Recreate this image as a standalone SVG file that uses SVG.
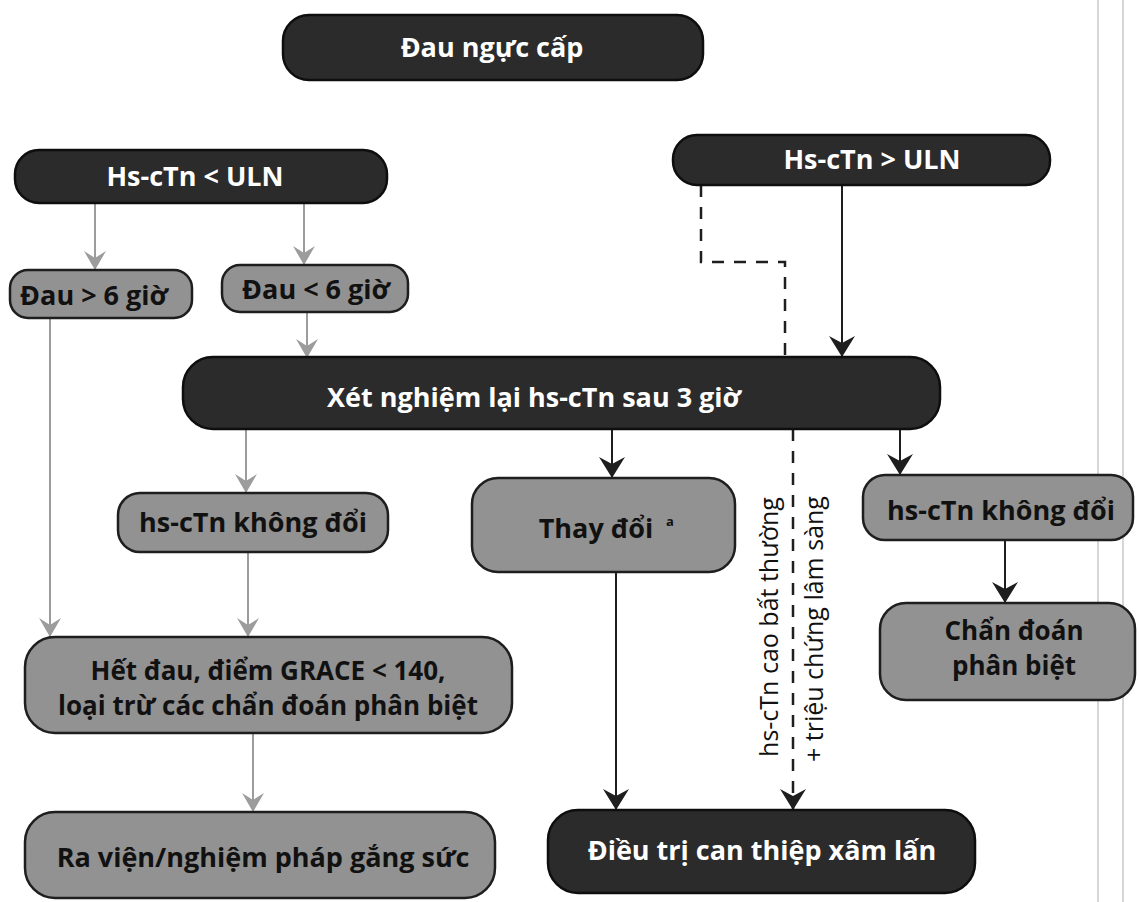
<svg xmlns="http://www.w3.org/2000/svg" width="1139" height="902" viewBox="0 0 1139 902">
<style>
.dark{fill:#2b2b2b;stroke:#0e0e0e;stroke-width:2.5}
.gray{fill:#929292;stroke:#1e1e1e;stroke-width:2.5}
.tw{font-family:"Open Sans","Liberation Sans",sans-serif;font-weight:700;font-size:27px;fill:#ffffff;text-anchor:middle}
.tb{font-family:"Open Sans","Liberation Sans",sans-serif;font-weight:700;font-size:27px;fill:#111111;text-anchor:middle}
.t2{font-size:26px}
.tr{font-family:"Open Sans","Liberation Sans",sans-serif;font-weight:400;font-size:25px;fill:#111111;text-anchor:middle}
.cg{stroke:#9c9c9c;stroke-width:2;fill:none;marker-end:url(#ag)}
.cb{stroke:#1e1e1e;stroke-width:2;fill:none;marker-end:url(#ab)}
.cd{stroke:#1e1e1e;stroke-width:2.5;fill:none;stroke-dasharray:12 10}
.page{stroke:#c8c8c8;stroke-width:1.5}
</style>
<defs>
<marker id="ag" markerUnits="userSpaceOnUse" markerWidth="24" markerHeight="24" viewBox="-20 -12 22 24" refX="0" refY="0" orient="auto"><path d="M-19,-11 L0,0 L-19,11 L-12,0 z" fill="#9c9c9c"/></marker>
<marker id="ab" markerUnits="userSpaceOnUse" markerWidth="28" markerHeight="28" viewBox="-22 -14 24 28" refX="0" refY="0" orient="auto"><path d="M-21,-13 L0,0 L-21,13 L-14,0 z" fill="#1e1e1e"/></marker>
</defs>
<rect width="1139" height="902" fill="#ffffff"/>
<g id="page-edges">
<line class="page" x1="1098" y1="0" x2="1098" y2="902"/>
<line class="page" x1="1123" y1="0" x2="1123" y2="902"/>
</g>
<g id="connectors">
<line class="cg" x1="95" y1="203" x2="95" y2="270"/>
<line class="cg" x1="304" y1="203" x2="304" y2="265"/>
<line class="cg" x1="307" y1="312" x2="307" y2="358"/>
<line class="cg" x1="50" y1="318" x2="50" y2="637"/>
<line class="cg" x1="246" y1="429" x2="246" y2="493"/>
<line class="cg" x1="248" y1="552" x2="248" y2="637"/>
<line class="cg" x1="253" y1="733" x2="253" y2="812"/>
<line class="cb" x1="842" y1="185" x2="842" y2="357"/>
<line class="cb" x1="612" y1="429" x2="612" y2="478"/>
<line class="cb" x1="616" y1="572" x2="616" y2="810"/>
<line class="cb" x1="900" y1="429" x2="900" y2="475"/>
<line class="cb" x1="1005" y1="540" x2="1005" y2="603"/>
<path class="cd" d="M701,185 V262 H785 V360"/>
<path class="cd" d="M793,429 V796"/>
<line x1="793" y1="796" x2="793" y2="810" stroke="#1e1e1e" stroke-width="2.5" marker-end="url(#ab)"/>
<text class="tr" x="778" y="627" transform="rotate(-90 778 627)">hs-cTn cao bất thường</text>
<text class="tr" x="823" y="629" transform="rotate(-90 823 629)">+ triệu chứng lâm sàng</text>
</g>
<g id="n_dau_nguc_cap">
<rect class="dark" x="283" y="15" width="420" height="65" rx="26"/>
<text class="tw" x="492" y="57">Đau ngực cấp</text>
</g>
<g id="n_hs_low">
<rect class="dark" x="15" y="150" width="372" height="53" rx="24"/>
<text class="tw" x="195" y="186">Hs-cTn &lt; ULN</text>
</g>
<g id="n_hs_high">
<rect class="dark" x="673" y="135" width="377" height="50" rx="24"/>
<text class="tw" x="872" y="169">Hs-cTn &gt; ULN</text>
</g>
<g id="n_gt6">
<rect class="gray" x="10" y="270" width="182" height="48" rx="18"/>
<text class="tb" x="94" y="305">Đau &gt; 6 giờ</text>
</g>
<g id="n_lt6">
<rect class="gray" x="222" y="265" width="186" height="47" rx="18"/>
<text class="tb" x="316" y="299">Đau &lt; 6 giờ</text>
</g>
<g id="n_xet_nghiem">
<rect class="dark" x="183" y="357" width="757" height="72" rx="30"/>
<text class="tw" x="534" y="407">Xét nghiệm lại hs-cTn sau 3 giờ</text>
</g>
<g id="n_same_left">
<rect class="gray" x="118" y="493" width="270" height="59" rx="22"/>
<text class="tb" x="253" y="532">hs-cTn không đổi</text>
</g>
<g id="n_change">
<rect class="gray" x="472" y="478" width="263" height="94" rx="26"/>
<text class="tb" x="596" y="538">Thay đổi</text>
<text x="666" y="526" style="font-family:'Open Sans','Liberation Sans',sans-serif;font-weight:700;font-size:13px;fill:#111111">a</text>
</g>
<g id="n_same_right">
<rect class="gray" x="863" y="475" width="270" height="65" rx="22"/>
<text class="tb" x="1001" y="520">hs-cTn không đổi</text>
</g>
<g id="n_ddx">
<rect class="gray" x="880" y="603" width="255" height="97" rx="26"/>
<text class="tb t2" x="1014" y="640">Chẩn đoán</text>
<text class="tb t2" x="1014" y="675">phân biệt</text>
</g>
<g id="n_grace">
<rect class="gray" x="25" y="637" width="487" height="96" rx="30"/>
<text class="tb t2" x="268" y="680">Hết đau, điểm GRACE &lt; 140,</text>
<text class="tb t2" x="268" y="715">loại trừ các chẩn đoán phân biệt</text>
</g>
<g id="n_discharge">
<rect class="gray" x="25" y="812" width="470" height="86" rx="30"/>
<text class="tb" x="263" y="867">Ra viện/nghiệm pháp gắng sức</text>
</g>
<g id="n_invasive">
<rect class="dark" x="548" y="810" width="427" height="83" rx="30"/>
<text class="tw" x="762" y="860">Điều trị can thiệp xâm lấn</text>
</g>
</svg>
